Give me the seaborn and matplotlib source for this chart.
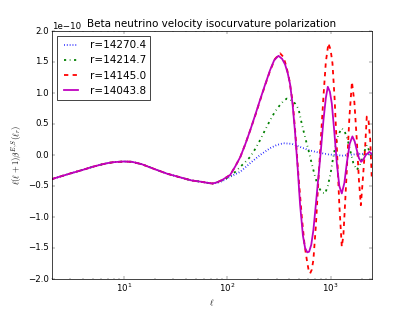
import numpy as np
import pandas as pd
import seaborn as sns
import matplotlib
matplotlib.use("Agg")
import matplotlib.pyplot as plt

# shared low-ell part (all four curves coincide here), units of 1e-10
ell_low = [2, 3, 4, 5, 6, 7, 8, 10, 12, 15, 20, 26, 35, 45, 55, 65, 72]
val_low = [-0.39, -0.30, -0.24, -0.19, -0.155, -0.13, -0.115, -0.105, -0.11, -0.15,
           -0.23, -0.30, -0.36, -0.41, -0.43, -0.45, -0.46]

ell_a = [80, 90, 107, 134, 167, 208, 260, 300, 350, 422, 507, 611, 720, 820, 950,
         1109, 1300, 1480, 1700, 2010, 2300, 2500]
val_a = [-0.45, -0.42, -0.35, -0.27, -0.13, 0.00, 0.11, 0.16, 0.19, 0.18, 0.13, 0.08,
         0.05, 0.03, 0.01, 0.00, -0.01, 0.00, 0.01, 0.02, 0.01, 0.02]

ell_b = [80, 90, 107, 120, 134, 150, 167, 187, 208, 232, 260, 290, 325, 350, 377, 410,
         454, 490, 527, 570, 611, 660, 708, 750, 792, 840, 886, 940, 1000, 1050, 1109,
         1190, 1284, 1370, 1465, 1560, 1660, 1794, 1900, 2010, 2120, 2240, 2350, 2460, 2500]
val_b = [-0.44, -0.41, -0.34, -0.27, -0.19, -0.11, -0.03, 0.10, 0.24, 0.40, 0.56, 0.70,
         0.81, 0.87, 0.91, 0.89, 0.83, 0.74, 0.50, 0.27, 0.08, -0.15, -0.35, -0.48, -0.56,
         -0.61, -0.62, -0.50, -0.30, -0.08, 0.13, 0.33, 0.43, 0.38, 0.24, 0.05, -0.13,
         -0.24, -0.18, -0.08, 0.05, 0.16, 0.08, -0.03, -0.05]

ell_c = [80, 90, 107, 120, 134, 150, 167, 187, 208, 232, 260, 290, 325, 350, 375, 400,
         430, 454, 490, 527, 560, 589, 612, 634, 658, 682, 720, 763, 808, 853, 900, 953,
         1000, 1043, 1095, 1149, 1215, 1284, 1330, 1380, 1436, 1520, 1610, 1700, 1794,
         1880, 1963, 2050, 2160, 2240, 2330, 2420, 2500]
val_c = [-0.44, -0.40, -0.32, -0.18, -0.03, 0.18, 0.40, 0.64, 0.88, 1.12, 1.36, 1.55,
         1.64, 1.58, 1.42, 1.20, 0.85, 0.40, -0.35, -1.00, -1.45, -1.69, -1.85, -1.91,
         -1.85, -1.69, -1.15, -0.40, 0.30, 0.94, 1.50, 1.80, 1.70, 1.48, 0.90, 0.13,
         -0.80, -1.48, -1.30, -0.80, -0.24, 0.60, 1.18, 0.85, 0.24, -0.40, -0.81, -0.40,
         0.13, 0.62, 0.55, 0.24, -0.35]

ell_d = [80, 90, 107, 120, 134, 150, 167, 187, 208, 232, 260, 285, 313, 340, 363, 385,
         406, 430, 454, 480, 507, 540, 567, 595, 620, 650, 682, 720, 763, 808, 853, 900,
         940, 985, 1028, 1090, 1149, 1215, 1284, 1360, 1436, 1530, 1627, 1710, 1794, 1880,
         1976, 2080, 2190, 2374, 2500]
val_d = [-0.44, -0.40, -0.32, -0.18, -0.03, 0.18, 0.40, 0.65, 0.89, 1.13, 1.37, 1.53,
         1.60, 1.55, 1.46, 1.32, 1.14, 0.80, 0.35, -0.20, -0.80, -1.30, -1.50, -1.57,
         -1.56, -1.45, -1.21, -0.80, -0.35, 0.10, 0.56, 0.92, 1.10, 1.02, 0.83, 0.35,
         -0.13, -0.50, -0.62, -0.45, -0.13, 0.18, 0.30, 0.22, 0.08, -0.05, -0.11, -0.07,
         0.00, 0.05, 0.02]

labels = ["r=14270.4", "r=14214.7", "r=14145.0", "r=14043.8"]
series = [(ell_a, val_a), (ell_b, val_b), (ell_c, val_c), (ell_d, val_d)]
colors = ["b", "g", "r", "m"]
styles = [":", "-.", "--", "-"]
yticks = [-2.0, -1.5, -1.0, -0.5, 0.0, 0.5, 1.0, 1.5, 2.0]

plt.style.use("classic")
fig, ax = plt.subplots(figsize=(8, 310 / 51.625), dpi=51.625)

for (ell, val), lab, c, ls in zip(series, labels, colors, styles):
    x = np.array(ell_low + ell)
    y = np.array(val_low + val) * 1e-10
    sns.lineplot(x=x, y=y, ax=ax, color=c, linestyle=ls, lw=2.5, label=lab)

ax.set_xscale("log")
ax.set_xlim(2, 2500)
ax.set_yticks(np.array(yticks) * 1e-10)
ax.set_ylim(-2e-10, 2e-10)
ax.set_title("Beta neutrino velocity isocurvature polarization")
ax.set_xlabel(r"$\ell$")
ax.set_ylabel(r"$\ell(\ell+1)\beta^{E,S}(\ell_r)$")
ax.legend(loc="upper left")

fig.savefig("out.png", dpi=51.625)
